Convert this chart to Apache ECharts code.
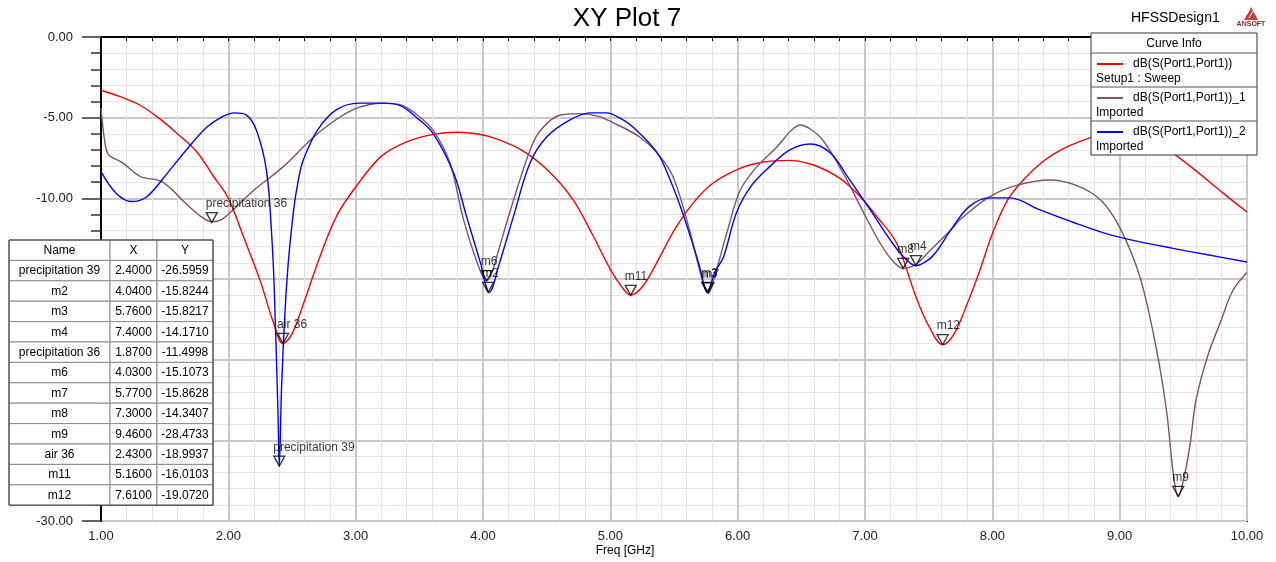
<!DOCTYPE html>
<html>
<head>
<meta charset="utf-8">
<script src="https://cdn.jsdelivr.net/npm/echarts@6/dist/echarts.min.js"></script>
<style>
html,body{margin:0;padding:0;background:#fff;}
#main{width:1276px;height:562px;}
</style>
</head>
<body>
<div id="main"></div>
<script>
// Setup1 : Sweep (red)
var sweepFreq = [1.0,1.15,1.3,1.45,1.6,1.75,1.88,2.0,2.12,2.25,2.35,2.43,2.5,2.6,2.72,2.85,3.0,3.2,3.4,3.6,3.8,3.95,4.1,4.3,4.5,4.7,4.85,5.0,5.1,5.16,5.25,5.35,5.5,5.65,5.8,6.0,6.2,6.4,6.6,6.8,6.95,7.1,7.25,7.4,7.5,7.61,7.7,7.8,7.9,8.0,8.12,8.25,8.4,8.55,8.75,8.9,9.05,9.2,9.4,9.6,9.8,10.0];
var sweepDb = [-3.3,-3.7,-4.2,-5.0,-6.0,-7.1,-8.6,-10.0,-12.4,-15.1,-17.6,-19.0,-18.4,-16.3,-13.6,-11.1,-9.3,-7.4,-6.5,-6.05,-5.9,-6.0,-6.3,-7.0,-8.2,-10.0,-12.1,-14.4,-15.6,-16.0,-15.5,-14.2,-12.0,-10.3,-9.1,-8.2,-7.75,-7.65,-7.95,-8.75,-9.8,-11.2,-12.8,-16.1,-17.9,-19.07,-18.4,-16.6,-14.5,-12.2,-10.1,-8.8,-7.7,-6.95,-6.3,-6.0,-5.9,-6.2,-7.1,-8.3,-9.6,-10.85];

// Imported _1 (purple)
var imp1Freq = [1.0,1.03,1.06,1.17,1.31,1.46,1.55,1.65,1.78,1.87,1.95,2.04,2.2,2.43,2.67,2.85,2.98,3.1,3.22,3.35,3.48,3.61,3.74,3.84,3.92,4.0,4.03,4.07,4.13,4.24,4.37,4.45,4.6,4.75,4.9,5.02,5.23,5.39,5.5,5.63,5.72,5.77,5.82,5.92,6.02,6.15,6.31,6.42,6.49,6.57,6.67,6.83,6.99,7.12,7.22,7.3,7.4,7.49,7.67,7.75,7.98,8.19,8.45,8.66,8.85,9.0,9.16,9.29,9.37,9.42,9.46,9.5,9.55,9.6,9.69,9.79,9.89,10.0];
var imp1Db = [-4.4,-6.5,-7.3,-7.8,-8.66,-8.9,-9.4,-10.2,-11.1,-11.45,-11.3,-10.7,-9.5,-8.05,-6.2,-5.1,-4.5,-4.2,-4.1,-4.2,-4.8,-5.8,-7.8,-11.1,-13.2,-14.9,-15.1,-14.6,-13.0,-10.1,-7.0,-5.8,-4.85,-4.75,-4.9,-5.3,-6.2,-7.4,-8.8,-12.2,-15.0,-15.86,-14.8,-12.0,-9.5,-8.05,-6.8,-5.8,-5.45,-5.7,-6.4,-8.45,-10.9,-12.8,-13.9,-14.34,-14.1,-13.4,-12.0,-11.3,-9.9,-9.2,-8.86,-9.2,-10.1,-11.8,-14.9,-19.4,-23.3,-27.0,-28.47,-27.5,-25.4,-22.5,-19.8,-17.7,-15.7,-14.6];

// Imported _2 (blue)
var imp2Freq = [1.0,1.12,1.24,1.36,1.52,1.67,1.83,1.95,2.05,2.14,2.22,2.3,2.34,2.36,2.39,2.4,2.42,2.46,2.51,2.55,2.59,2.7,2.85,3.03,3.2,3.35,3.48,3.61,3.77,3.87,3.98,4.05,4.13,4.24,4.37,4.5,4.68,4.84,4.97,5.08,5.18,5.37,5.47,5.55,5.63,5.7,5.76,5.82,5.89,5.99,6.1,6.25,6.41,6.57,6.73,6.88,7.04,7.2,7.3,7.4,7.5,7.57,7.67,7.82,7.98,8.14,8.37,8.64,8.9,9.16,9.42,9.69,10.0];
var imp2Db = [-8.35,-9.7,-10.2,-9.9,-8.45,-7.0,-5.6,-4.95,-4.7,-4.83,-5.77,-8.3,-12.2,-15.5,-23.3,-26.6,-21.3,-15.1,-10.9,-8.86,-7.6,-5.77,-4.5,-4.1,-4.1,-4.25,-5.0,-6.0,-8.45,-11.1,-14.0,-15.82,-14.0,-11.1,-7.8,-6.2,-5.15,-4.7,-4.7,-5.05,-5.6,-7.2,-8.86,-10.5,-12.4,-14.2,-15.82,-14.6,-13.6,-10.9,-9.3,-8.05,-7.0,-6.63,-7.2,-8.86,-10.7,-12.6,-13.6,-14.17,-13.8,-13.2,-12.0,-10.5,-9.97,-9.97,-10.7,-11.5,-12.2,-12.7,-13.1,-13.5,-13.95];

// marker table
var markerNames = ['precipitation 39','m2','m3','m4','precipitation 36','m6','m7','m8','m9','air 36','m11','m12'];
var markerX = [2.40,4.04,5.76,7.40,1.87,4.03,5.77,7.30,9.46,2.43,5.16,7.61];
var markerY = [-26.5959,-15.8244,-15.8217,-14.1710,-11.4998,-15.1073,-15.8628,-14.3407,-28.4733,-18.9937,-16.0103,-19.0720];

var curveNames = ['dB(S(Port1,Port1))','dB(S(Port1,Port1))_1','dB(S(Port1,Port1))_2'];
var curveSub = ['Setup1 : Sweep','Imported','Imported'];
var curveColors = ['#ff0000','#80506e','#0000ff'];

var FONT = '"Liberation Sans", Arial, sans-serif';

function pairs(xs, ys) {
	var out = [];
	for (var i = 0; i < xs.length; i++) {
		out.push([xs[i], ys[i]]);
	}
	return out;
}

function txt(x, y, s, size, align, z) {
	return {
		type: 'text', z: z || 20,
		style: {
			x: x, y: y, text: s, fill: '#000',
			font: size + 'px ' + FONT,
			align: align || 'left', textAlign: align || 'left',
			verticalAlign: 'middle', textVerticalAlign: 'middle'
		}
	};
}

function rect(x, y, w, h, stroke, z) {
	return {
		type: 'rect', z: z || 19,
		shape: {x: x, y: y, width: w, height: h},
		style: {fill: '#fff', stroke: stroke, lineWidth: 1}
	};
}

var graphics = [];
// title texts
graphics.push(txt(627, 19, 'XY Plot 7', 26, 'center'));
graphics.push(txt(1131, 18, 'HFSSDesign1', 14, 'left'));
graphics.push(txt(625, 551, 'Freq [GHz]', 12, 'center'));
// ansoft logo
graphics.push({type: 'polygon', z: 20, shape: {points: [[1251, 7], [1258, 20], [1244, 20]]}, style: {fill: '#c83c3c'}});
graphics.push({type: 'polyline', z: 21, shape: {points: [[1247, 14], [1250, 9]]}, style: {stroke: '#fff', lineWidth: 1}});
graphics.push({type: 'polyline', z: 21, shape: {points: [[1249, 18], [1253, 11]]}, style: {stroke: '#fff', lineWidth: 1}});
graphics.push({type: 'text', z: 20, style: {x: 1251, y: 24, text: 'ANSOFT', fill: '#7a2a2a', font: 'bold 7px ' + FONT, align: 'center', textAlign: 'center', verticalAlign: 'middle', textVerticalAlign: 'middle'}});

// marker table
var tLeft = 9, tTop = 240, rowH = 20.4;
var colW = [101, 47, 56];
var header = ['Name', 'X', 'Y'];
for (var r = 0; r <= markerNames.length; r++) {
	var cells = r == 0 ? header : [markerNames[r - 1], markerX[r - 1].toFixed(4), markerY[r - 1].toFixed(4)];
	var cx = tLeft;
	for (var c = 0; c < 3; c++) {
		var yy = tTop + r * rowH;
		graphics.push(rect(cx, yy, colW[c], rowH, '#8a8a8a'));
		graphics.push(txt(cx + colW[c] / 2, yy + rowH / 2 + 0.5, cells[c], 12, 'center'));
		cx += colW[c];
	}
}
graphics.push({type: 'rect', z: 22, shape: {x: tLeft, y: tTop, width: 204, height: rowH * 13}, style: {fill: 'none', stroke: '#333', lineWidth: 1}});

// curve info box
var bx = 1091, by = 33, bw = 166;
graphics.push(rect(bx, by, bw, 122, '#333'));
graphics.push(txt(bx + bw / 2, by + 11, 'Curve Info', 12, 'center'));
graphics.push({type: 'line', z: 20, shape: {x1: bx, y1: 53, x2: bx + bw, y2: 53}, style: {stroke: '#555', lineWidth: 1}});
for (var k = 0; k < 3; k++) {
	var ly = 64 + k * 34;
	if (k > 0) {
		graphics.push({type: 'line', z: 20, shape: {x1: bx, y1: ly - 11, x2: bx + bw, y2: ly - 11}, style: {stroke: '#555', lineWidth: 1}});
	}
	graphics.push({type: 'line', z: 20, shape: {x1: 1097, y1: ly, x2: 1123, y2: ly}, style: {stroke: curveColors[k], lineWidth: 2}});
	graphics.push(txt(1133, ly, curveNames[k], 12, 'left'));
	graphics.push(txt(1096, ly + 15, curveSub[k], 12, 'left'));
}

var lineSeries = [
	{name: curveNames[0], data: pairs(sweepFreq, sweepDb), color: curveColors[0]},
	{name: curveNames[1], data: pairs(imp1Freq, imp1Db), color: curveColors[1]},
	{name: curveNames[2], data: pairs(imp2Freq, imp2Db), color: curveColors[2]}
];

var series = [];
for (var s = 0; s < lineSeries.length; s++) {
	series.push({
		name: lineSeries[s].name,
		type: 'line',
		data: lineSeries[s].data,
		showSymbol: false,
		smooth: 0.35,
		silent: true,
		z: 3,
		lineStyle: {color: lineSeries[s].color, width: 1.4}
	});
}

var markerData = [];
for (var m = 0; m < markerNames.length; m++) {
	markerData.push({name: markerNames[m], value: [markerX[m], markerY[m]]});
}
series.push({
	type: 'scatter',
	data: markerData,
	z: 5,
	silent: true,
	symbol: 'path://M0,0 L10,0 L5,10 Z',
	symbolSize: [11, 10],
	symbolOffset: [0, -5],
	itemStyle: {color: 'rgba(255,255,255,0)', borderColor: '#000', borderWidth: 1.3},
	label: {
		show: true,
		formatter: '{b}',
		position: 'top',
		distance: 2,
		align: 'left',
		offset: [-6, 0],
		color: '#000',
		fontSize: 12,
		fontFamily: FONT
	}
});

var chart = echarts.init(document.getElementById('main'));
chart.setOption({
	animation: false,
	backgroundColor: '#fff',
	grid: {left: 101, right: 29, top: 37, bottom: 41, show: true, borderColor: '#000', borderWidth: 2, backgroundColor: 'transparent'},
	xAxis: {
		type: 'value', min: 1, max: 10, interval: 1,
		axisLine: {show: true, lineStyle: {color: '#000', width: 2}},
		axisTick: {show: true, length: 4, lineStyle: {color: '#000', width: 1}},
		minorTick: {show: true, splitNumber: 5, length: 4, lineStyle: {color: '#000', width: 1}},
		axisLabel: {formatter: function (v) { return v.toFixed(2); }, color: '#222', fontSize: 13, margin: 9, fontFamily: FONT},
		splitLine: {show: true, lineStyle: {color: '#c8c8c8', width: 2}},
		minorSplitLine: {show: true, lineStyle: {color: '#e4e4e4', width: 1}}
	},
	yAxis: {
		type: 'value', min: -30, max: 0, interval: 5,
		axisLine: {show: true, lineStyle: {color: '#000', width: 2}},
		axisTick: {show: true, length: 19, lineStyle: {color: '#333', width: 1.5}},
		minorTick: {show: true, splitNumber: 5, length: 10, lineStyle: {color: '#333', width: 1.5}},
		axisLabel: {formatter: function (v) { return v.toFixed(2); }, color: '#222', fontSize: 13, margin: 28, fontFamily: FONT},
		splitLine: {show: true, lineStyle: {color: '#c8c8c8', width: 2}},
		minorSplitLine: {show: true, lineStyle: {color: '#e4e4e4', width: 1}}
	},
	series: series,
	graphic: {elements: graphics}
});
</script>
</body>
</html>
